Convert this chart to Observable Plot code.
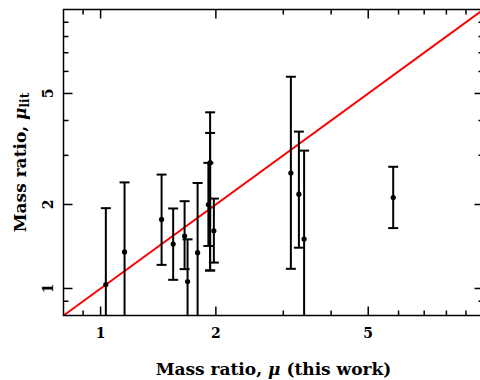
<!DOCTYPE html>
<html><head><meta charset="utf-8">
<script src="https://cdn.jsdelivr.net/npm/d3@7"></script>
<script src="https://cdn.jsdelivr.net/npm/@observablehq/plot@0.6"></script>
<style>
html,body{margin:0;padding:0;background:#fff;}
</style>
</head><body><div id="chart"></div>
<script>
// Mass ratio from this work (x) vs literature (y), with literature error ranges
const muThis  = [1.032, 1.155, 1.443, 1.547, 1.657, 1.687, 1.792, 1.912, 1.932, 1.932, 1.976, 3.14, 3.295, 3.40, 5.81];
const muLit   = [1.033, 1.352, 1.768, 1.443, 1.542, 1.059, 1.344, 2.00, 2.82, 2.82, 1.61, 2.593, 2.177, 1.504, 2.118];
const muLitLo = [0.6, 0.6, 1.215, 1.074, 1.173, 0.6, 0.6, 1.42, 1.16, 1.16, 1.238, 1.176, 1.40, 0.6, 1.646];
const muLitHi = [1.94, 2.40, 2.56, 1.935, 2.055, 1.50, 2.388, 2.82, 4.28, 3.61, 2.10, 5.74, 3.65, 3.12, 2.73];

const majorTicks = [1, 2, 5];
const minorTicks = [0.9, 3, 4, 6, 7, 8, 9];
const equalityLine = [0.8, 10];
const xLabel = "Mass ratio, μ (this work)";
const yLabel = "Mass ratio, μlit";

const data = muThis.map((x, i) => ({x, y: muLit[i], lo: muLitLo[i], hi: muLitHi[i]}));
const lineData = equalityLine.map(v => ({x: v, y: v}));

// stroke-only symbols (pixel sized)
const hLine = (w) => ({draw(ctx) { ctx.moveTo(-w, 0); ctx.lineTo(w, 0); }});
const tick = (dx, dy) => ({draw(ctx) { ctx.moveTo(0, 0); ctx.lineTo(dx, dy); }});

const font = "DejaVu Serif";
const chart = Plot.plot({
  width: 480, height: 380,
  marginLeft: 63, marginRight: -3, marginTop: 9, marginBottom: 65,
  x: {type: "log", domain: [0.8, 10], range: [63, 483], axis: null},
  y: {type: "log", domain: [0.8, 10], range: [315, 9], axis: null},
  style: {fontFamily: font, fontWeight: "bold", fontSize: "14px", background: "white", color: "black", overflow: "visible"},
  marks: [
    Plot.line(lineData, {x: "x", y: "y", stroke: "#ff0000", strokeWidth: 2, clip: true}),
    Plot.ruleX(data, {x: "x", y1: "lo", y2: "hi", stroke: "black", strokeWidth: 2, clip: true}),
    Plot.dot(data, {x: "x", y: "hi", symbol: hLine(5), fill: "none", stroke: "black", strokeWidth: 2, clip: true}),
    Plot.dot(data, {x: "x", y: "lo", symbol: hLine(5), fill: "none", stroke: "black", strokeWidth: 2, clip: true}),
    Plot.dot(data, {x: "x", y: "y", r: 2.6, fill: "black", stroke: "none"}),
    // inward ticks on all four sides
    Plot.dot(majorTicks, {x: d => d, frameAnchor: "bottom", symbol: tick(0, -9), fill: "none", stroke: "black", strokeWidth: 1.5}),
    Plot.dot(minorTicks, {x: d => d, frameAnchor: "bottom", symbol: tick(0, -5), fill: "none", stroke: "black", strokeWidth: 1.5}),
    Plot.dot(majorTicks, {x: d => d, frameAnchor: "top", symbol: tick(0, 9), fill: "none", stroke: "black", strokeWidth: 1.5}),
    Plot.dot(minorTicks, {x: d => d, frameAnchor: "top", symbol: tick(0, 5), fill: "none", stroke: "black", strokeWidth: 1.5}),
    Plot.dot(majorTicks, {y: d => d, frameAnchor: "left", symbol: tick(9, 0), fill: "none", stroke: "black", strokeWidth: 1.5}),
    Plot.dot(minorTicks, {y: d => d, frameAnchor: "left", symbol: tick(5, 0), fill: "none", stroke: "black", strokeWidth: 1.5}),
    Plot.dot(majorTicks, {y: d => d, frameAnchor: "right", symbol: tick(-9, 0), fill: "none", stroke: "black", strokeWidth: 1.5}),
    Plot.dot(minorTicks, {y: d => d, frameAnchor: "right", symbol: tick(-5, 0), fill: "none", stroke: "black", strokeWidth: 1.5}),
    Plot.frame({stroke: "black", strokeWidth: 1.5}),
    // tick labels
    Plot.text(majorTicks, {x: d => d, text: d => String(d), frameAnchor: "bottom", dy: 22, lineAnchor: "bottom", textAnchor: "middle", fontSize: 14}),
    Plot.text(majorTicks, {y: d => d, text: d => String(d), frameAnchor: "left", dx: -11, rotate: -90, lineAnchor: "bottom", textAnchor: "middle", fontSize: 14}),
    // axis titles
    Plot.text([xLabel], {text: d => d, frameAnchor: "bottom", dy: 59, lineAnchor: "bottom", textAnchor: "middle", fontSize: 17}),
    Plot.text([yLabel], {text: d => d, frameAnchor: "left", dx: -38, rotate: -90, lineAnchor: "bottom", textAnchor: "middle", fontSize: 17})
  ]
});
document.getElementById("chart").appendChild(chart);

// Greek mu in italics, "lit" as subscript
d3.select(chart).selectAll("text").each(function() {
  const t = this.textContent;
  if (t === xLabel) {
    const el = d3.select(this); el.text(null);
    el.append("tspan").text("Mass ratio, ");
    el.append("tspan").attr("font-style", "italic").text("μ");
    el.append("tspan").text(" (this work)");
  } else if (t === yLabel) {
    const el = d3.select(this); el.text(null);
    el.append("tspan").text("Mass ratio, ");
    el.append("tspan").attr("font-style", "italic").text("μ");
    el.append("tspan").attr("font-size", "12px").attr("dy", "0.3em").text("lit");
  }
});
</script>
</body></html>
